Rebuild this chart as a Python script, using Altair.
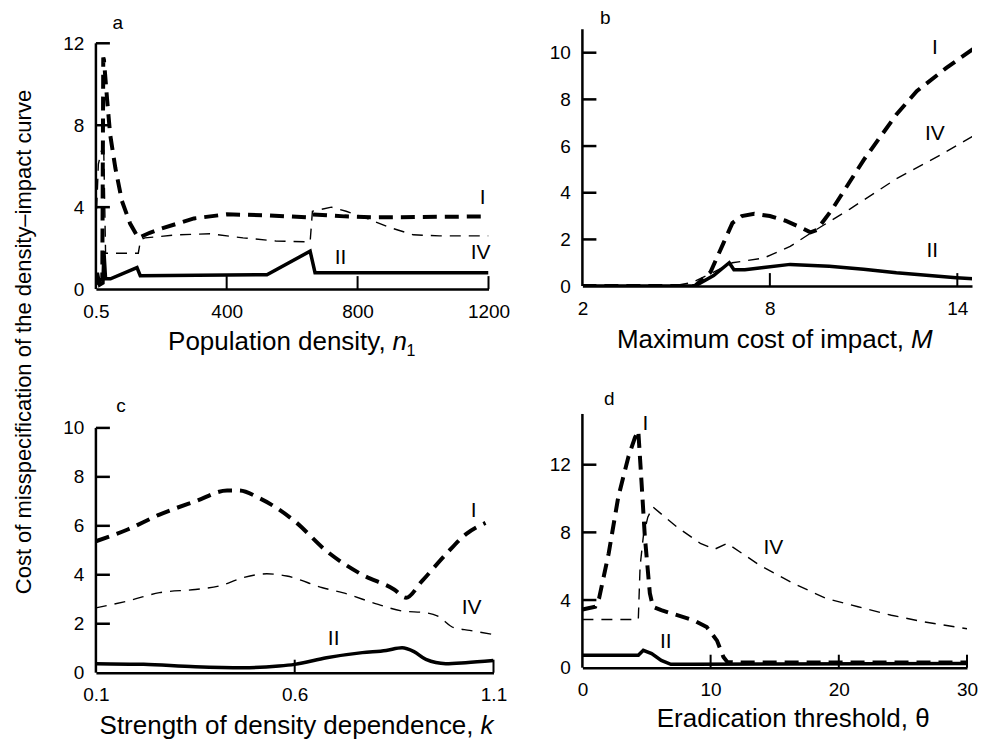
import altair as alt
import pandas as pd

FONT = "Liberation Sans"

# ---------------- panel a: population density ----------------
a_I_x = [0.5, 20, 23, 25, 35, 44, 60, 80, 105, 130, 165, 200, 300, 400, 525, 645, 660, 760, 850, 1200]
a_I_y = [0.3, 0.5, 11.3, 11.2, 9.2, 7.55, 5.9, 4.3, 3.2, 2.5, 2.75, 2.95, 3.45, 3.65, 3.6, 3.5, 3.65, 3.55, 3.5, 3.55]
a_IV_x = [0.5, 8, 24, 30, 130, 137, 150, 250, 350, 450, 550, 655, 662, 720, 765, 820, 900, 970, 1050, 1200]
a_IV_y = [3.0, 6.1, 7.2, 1.75, 1.75, 2.4, 2.5, 2.65, 2.7, 2.5, 2.35, 2.3, 3.8, 4.0, 3.8, 3.5, 3.0, 2.65, 2.6, 2.6]
a_II_x = [0.5, 5, 12, 22, 25, 30, 45, 126, 136, 523, 655, 670, 1200]
a_II_y = [0.2, 0.8, 0.2, 0.3, 1.85, 0.5, 0.5, 1.05, 0.65, 0.7, 1.85, 0.8, 0.8]

# ---------------- panel b: maximum cost of impact ----------------
b_I_x = [2, 5.6, 6.1, 6.5, 6.8, 7.1, 7.5, 8.0, 8.5, 9.0, 9.3, 9.5, 10.0, 11.0, 12.05, 12.7, 13.65, 14.6]
b_I_y = [0, 0, 0.6, 1.8, 2.7, 3.0, 3.1, 3.0, 2.8, 2.5, 2.3, 2.4, 3.3, 5.4, 7.35, 8.35, 9.35, 10.25]
b_IV_x = [2, 4.9, 5.5, 6.2, 6.8, 7.8, 8.65, 9.4, 10.56, 12.05, 13.44, 14.6]
b_IV_y = [0, 0, 0.15, 0.6, 1.0, 1.2, 1.7, 2.35, 3.3, 4.6, 5.6, 6.5]
b_II_x = [2, 5.6, 6.2, 6.7, 6.85, 7.2, 7.8, 8.65, 9.9, 11.0, 12.05, 13.97, 14.6]
b_II_y = [0, 0, 0.45, 1.0, 0.7, 0.7, 0.8, 0.93, 0.85, 0.72, 0.57, 0.36, 0.3]

# ---------------- panel c: strength of density dependence ----------------
c_I_x = [0.1, 0.18, 0.26, 0.35, 0.43, 0.46, 0.51, 0.6, 0.68, 0.77, 0.85, 0.88, 0.92, 0.98, 1.03, 1.08]
c_I_y = [5.37, 5.85, 6.46, 7.0, 7.44, 7.44, 7.14, 6.19, 4.97, 4.0, 3.4, 3.06, 3.74, 4.83, 5.65, 6.12]
c_IV_x = [0.1, 0.18, 0.26, 0.35, 0.41, 0.47, 0.53, 0.58, 0.67, 0.72, 0.81, 0.87, 0.93, 0.96, 1.0, 1.04, 1.1]
c_IV_y = [2.65, 2.93, 3.27, 3.4, 3.54, 3.88, 4.04, 3.95, 3.47, 3.27, 2.79, 2.52, 2.45, 2.31, 1.84, 1.73, 1.56]
c_II_x = [0.1, 0.22, 0.35, 0.47, 0.56, 0.6, 0.68, 0.77, 0.83, 0.87, 0.9, 0.93, 0.98, 1.03, 1.1]
c_II_y = [0.37, 0.34, 0.24, 0.2, 0.27, 0.34, 0.61, 0.82, 0.91, 1.02, 0.86, 0.54, 0.37, 0.41, 0.5]

# ---------------- panel d: eradication threshold ----------------
d_I_x = [0, 1.0, 1.3, 2.05, 2.8, 3.6, 4.1, 4.36, 4.6, 4.87, 5.26, 5.5, 6.15, 8.7, 9.7, 10.5, 11.0, 11.3, 12, 30]
d_I_y = [3.44, 3.6, 4.1, 6.76, 10.1, 12.5, 13.6, 14.0, 11.1, 7.75, 4.4, 3.6, 3.4, 2.8, 2.4, 1.6, 0.63, 0.34, 0.3, 0.3]
d_IV_x = [0, 4.36, 4.5, 4.75, 5.1, 5.5, 7.4, 9.2, 10.3, 11.3, 13.8, 16.4, 19.0, 21.5, 24.1, 26.7, 30]
d_IV_y = [2.85, 2.85, 6.0, 7.75, 8.9, 9.5, 8.3, 7.35, 7.0, 7.35, 6.07, 5.0, 4.1, 3.6, 3.1, 2.7, 2.3]
d_II_x = [0, 4.36, 4.75, 5.4, 6.15, 6.9, 8.7, 15, 30]
d_II_y = [0.73, 0.73, 1.03, 0.83, 0.43, 0.2, 0.2, 0.22, 0.25]

STYLE_I = dict(color="black", strokeWidth=4, strokeDash=[14, 8])
STYLE_IV = dict(color="black", strokeWidth=1.4, strokeDash=[11, 8])
STYLE_II = dict(color="black", strokeWidth=3.5)


def text_chart(t, px, py, size=20, align="center", baseline="alphabetic", italic=False, angle=0):
    kw = dict(font=FONT, fontSize=size, color="black", align=align, baseline=baseline)
    if italic:
        kw["fontStyle"] = "italic"
    if angle:
        kw["angle"] = angle
    return alt.Chart(pd.DataFrame({"t": [t]})).mark_text(**kw).encode(
        x=alt.value(px), y=alt.value(py), text="t:N")


def make_panel(cfg):
    w, h = cfg["w"], cfg["h"]
    interp = cfg.get("interp", "linear")
    xsc = alt.Scale(domain=cfg["xdom"], nice=False, zero=False)
    ysc = alt.Scale(domain=cfg["ydom"], nice=False, zero=False)
    lab_expr = "'' + datum.value"
    xax = alt.Axis(values=cfg["xvals"], labelExpr=lab_expr, title=None, ticks=False, tickSize=0, grid=False,
                   domain=True, domainColor="black", domainWidth=2.5, labelFont=FONT, labelFontSize=19,
                   labelColor="black", labelPadding=13, labelFlush=False, labelOverlap=False)
    yax = alt.Axis(values=cfg["yvals"], labelExpr=lab_expr, title=None, ticks=False, tickSize=0, grid=False,
                   domain=False, labelFont=FONT, labelFontSize=19, labelColor="black",
                   labelPadding=12, labelOverlap=False)

    def X(f):
        return alt.X(f, type="quantitative", scale=xsc, axis=xax)

    def Y(f):
        return alt.Y(f, type="quantitative", scale=ysc, axis=yax)

    layers = []
    layers.append(alt.Chart(pd.DataFrame({"y0": [0], "y1": [cfg["ytop"]]})).mark_rule(
        color="black", strokeWidth=2.5).encode(x=alt.value(0), y=Y("y0"), y2="y1:Q"))
    layers.append(alt.Chart(pd.DataFrame({"v": cfg["yin"]})).mark_rule(
        color="black", strokeWidth=2.5).encode(y=Y("v"), x=alt.value(0), x2=alt.value(14)))
    layers.append(alt.Chart(pd.DataFrame({"v": cfg["xin"]})).mark_rule(
        color="black", strokeWidth=2).encode(x=X("v"), y=alt.value(h), y2=alt.value(h - 13)))
    for xs_, ys_, style in cfg["series"]:
        df = pd.DataFrame({"x": xs_, "y": ys_})
        layers.append(alt.Chart(df).mark_line(interpolate=interp, clip=True, **style).encode(
            x=X("x"), y=Y("y")))
    lab = pd.DataFrame(cfg["labels"], columns=["x", "y", "t"])
    layers.append(alt.Chart(lab).mark_text(font=FONT, fontSize=21, color="black").encode(
        x=X("x"), y=Y("y"), text="t:N"))
    for a in cfg["texts"]:
        layers.append(text_chart(**a))
    return alt.layer(*layers).properties(width=w, height=h)


pa = make_panel(dict(
    w=393, h=260, xdom=[0.5, 1200], ydom=[0, 12.68], ytop=12,
    xvals=[0.5, 400, 800, 1200], yvals=[0, 4, 8, 12], xin=[400, 800, 1200], yin=[4, 8, 12],
    series=[(a_IV_x, a_IV_y, STYLE_IV), (a_I_x, a_I_y, STYLE_I), (a_II_x, a_II_y, STYLE_II)],
    labels=[(1182, 4.45, "I"), (1176, 1.75, "IV"), (748, 1.5, "II")],
    texts=[
        dict(t="a", px=22, py=-6, size=19, baseline="middle"),
        dict(t="Cost of misspecification of the density\u2013impact curve", px=-72, py=313,
             size=22, baseline="middle", angle=270),
        dict(t="Population density,", px=290, py=321, size=26, align="right"),
        dict(t="n", px=297, py=321, size=26, align="left", italic=True),
        dict(t="1", px=311, py=327, size=16, align="left"),
    ],
))

pb = make_panel(dict(
    w=390, h=257, xdom=[2, 14.47], ydom=[0, 11], ytop=11,
    xvals=[2, 8, 14], yvals=[0, 2, 4, 6, 8, 10], xin=[8, 14], yin=[2, 4, 6, 8, 10],
    series=[(b_IV_x, b_IV_y, STYLE_IV), (b_I_x, b_I_y, STYLE_I), (b_II_x, b_II_y, STYLE_II)],
    labels=[(13.28, 10.2, "I"), (13.28, 6.5, "IV"), (13.2, 1.5, "II")],
    texts=[
        dict(t="b", px=23, py=-11, size=19, baseline="middle"),
        dict(t="Maximum cost of impact,", px=322, py=319, size=26, align="right"),
        dict(t="M", px=329, py=319, size=26, align="left", italic=True),
    ],
))

pc = make_panel(dict(
    w=398, h=259, xdom=[0.1, 1.1], ydom=[0, 10.57], ytop=10, interp="monotone",
    xvals=[0.1, 0.6, 1.1], yvals=[0, 2, 4, 6, 8, 10], xin=[0.6, 1.1], yin=[2, 4, 6, 8, 10],
    series=[(c_IV_x, c_IV_y, STYLE_IV), (c_I_x, c_I_y, STYLE_I), (c_II_x, c_II_y, STYLE_II)],
    labels=[(1.05, 6.6, "I"), (1.045, 2.65, "IV"), (0.698, 1.39, "II")],
    texts=[
        dict(t="c", px=25, py=-8, size=19, baseline="middle"),
        dict(t="Strength of density dependence,", px=378, py=320, size=26, align="right"),
        dict(t="k", px=385, py=320, size=26, align="left", italic=True),
    ],
))

pd_ = make_panel(dict(
    w=385, h=254, xdom=[0, 30], ydom=[0, 15], ytop=15,
    xvals=[0, 10, 20, 30], yvals=[0, 4, 8, 12], xin=[10, 20, 30], yin=[4, 8, 12],
    series=[(d_IV_x, d_IV_y, STYLE_IV), (d_I_x, d_I_y, STYLE_I), (d_II_x, d_II_y, STYLE_II)],
    labels=[(4.92, 14.4, "I"), (14.9, 7.1, "IV"), (6.5, 1.5, "II")],
    texts=[
        dict(t="d", px=27, py=-15, size=19, baseline="middle"),
        dict(t="Eradication threshold, \u03b8", px=211, py=313, size=26, align="center"),
    ],
))

chart = alt.concat(
    pa, pb, pc, pd_, columns=2,
    spacing={"row": 125, "column": 89}, align="each", bounds="flush",
    padding={"left": 4, "top": 1, "right": 0, "bottom": 0}, background="white",
).configure_view(strokeWidth=0)

chart.save("out.html", embed_options={"renderer": "svg", "actions": False})
